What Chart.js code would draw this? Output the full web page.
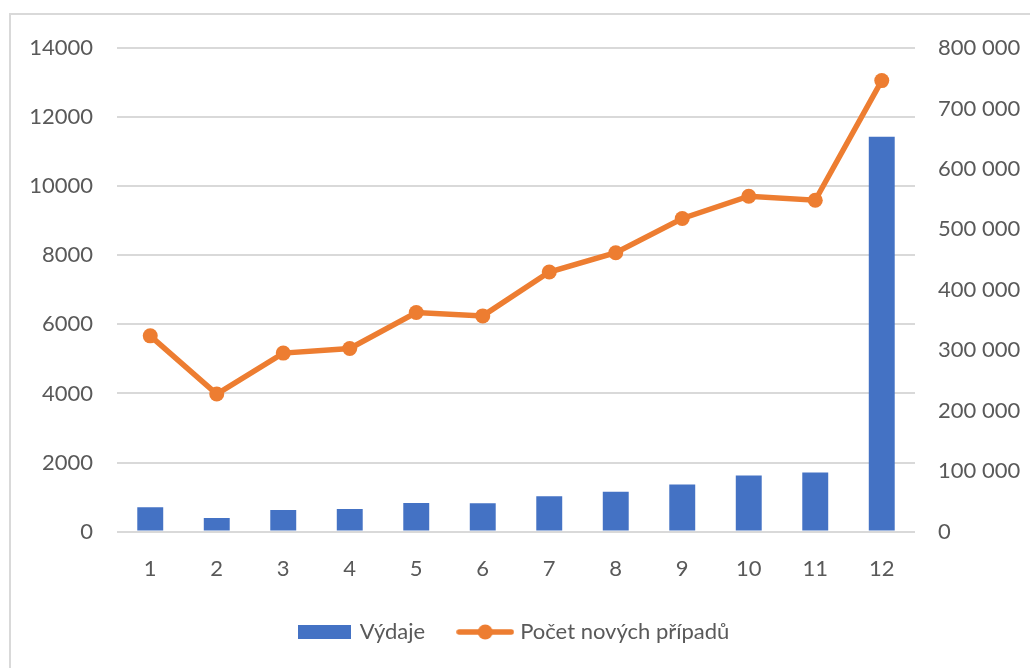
<!DOCTYPE html>
<html>
<head>
<meta charset="utf-8">
<script src="https://cdn.jsdelivr.net/npm/chart.js@4"></script>
<style>
  body { margin: 0; background: #fff; }
</style>
</head>
<body>
<canvas id="chart" width="1030" height="668"></canvas>
<script>
const months = ["1", "2", "3", "4", "5", "6", "7", "8", "9", "10", "11", "12"];
const vydaje = [703, 395, 625, 654, 827, 818, 1026, 1153, 1363, 1622, 1709, 11430];
const noveCases = [323800, 227600, 295300, 303000, 362400, 356800, 429400, 461300, 518000, 554800, 548200, 746100];

const blue = '#4472C4';
const orange = '#ED7D31';
const textColor = '#595959';
const gridColor = '#d9d9d9';

// legend symbols
const boxIcon = document.createElement('canvas');
boxIcon.width = 53; boxIcon.height = 14;
let c = boxIcon.getContext('2d');
c.fillStyle = blue;
c.fillRect(0, 0, 53, 14);

const lineIcon = document.createElement('canvas');
lineIcon.width = 58; lineIcon.height = 16;
c = lineIcon.getContext('2d');
c.strokeStyle = orange;
c.lineWidth = 5.5;
c.lineCap = 'round';
c.beginPath(); c.moveTo(3, 8); c.lineTo(55, 8); c.stroke();
c.fillStyle = orange;
c.beginPath(); c.arc(29, 8, 7.5, 0, Math.PI * 2); c.fill();

function spaced(v) {
    return String(v).replace(/\B(?=(\d{3})+(?!\d))/g, ' ');
}

const frame = {
    id: 'frame',
    beforeDraw(chart) {
        const ctx = chart.ctx;
        ctx.save();
        ctx.strokeStyle = gridColor;
        ctx.lineWidth = 2;
        ctx.strokeRect(10, 14, 1100, 700);
        ctx.restore();
    }
};

// tighten legend: shorter box and items pulled up towards the axis
const legendTweak = {
    id: 'legendTweak',
    afterInit(chart) {
        const lg = chart.legend;
        const fit = lg.fit.bind(lg);
        const draw = lg.draw.bind(lg);
        lg.fit = function () { fit(); this.height -= 20; };
        lg.draw = function () {
            const top = this.top;
            this.top = top - 21;
            draw();
            this.top = top;
        };
    }
};

Chart.defaults.font.family = 'Lato, "Open Sans", sans-serif';
Chart.defaults.font.size = 22;
Chart.defaults.color = textColor;

new Chart(document.getElementById('chart'), {
    data: {
        labels: months,
        datasets: [{
            type: 'bar',
            label: 'Výdaje',
            data: vydaje,
            backgroundColor: blue,
            yAxisID: 'y',
            barPercentage: 0.39,
            categoryPercentage: 1,
            order: 2
        }, {
            type: 'line',
            label: 'Počet nových případů',
            data: noveCases,
            borderColor: orange,
            backgroundColor: orange,
            borderWidth: 5.5,
            pointRadius: 7.5,
            pointBackgroundColor: orange,
            pointBorderWidth: 0,
            tension: 0,
            yAxisID: 'y1',
            order: 1
        }]
    },
    options: {
        responsive: false,
        animation: false,
        layout: { padding: { top: 48, bottom: 14 } },
        plugins: {
            tooltip: { enabled: false },
            legend: {
                position: 'bottom',
                labels: {
                    usePointStyle: true,
                    pointStyleWidth: 48,
                    boxHeight: 16,
                    padding: 36,
                    generateLabels(chart) {
                        return chart.data.datasets.map((ds, i) => ({
                            text: ds.label,
                            datasetIndex: i,
                            pointStyle: i === 0 ? boxIcon : lineIcon,
                            fontColor: textColor,
                            lineWidth: 0,
                            hidden: false
                        }));
                    }
                }
            }
        },
        scales: {
            x: {
                offset: true,
                grid: { display: false, drawTicks: false },
                border: { display: false },
                ticks: { padding: 24 }
            },
            y: {
                position: 'left',
                min: 0,
                max: 14000,
                ticks: { stepSize: 2000, padding: 24, callback: v => String(v) },
                grid: { color: gridColor, lineWidth: 2, drawTicks: false },
                border: { display: false },
                afterFit(scale) { scale.width = 117; }
            },
            y1: {
                position: 'right',
                min: 0,
                max: 800000,
                ticks: { stepSize: 100000, padding: 23, callback: v => spaced(v) },
                grid: { display: false, drawTicks: false },
                border: { display: false },
                afterFit(scale) { scale.width = 115; }
            }
        }
    },
    plugins: [frame, legendTweak]
});
</script>
</body>
</html>
